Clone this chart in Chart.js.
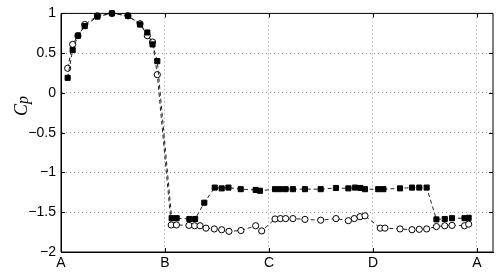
<!DOCTYPE html>
<html>
<head>
<meta charset="utf-8">
<script src="https://cdn.jsdelivr.net/npm/chart.js@4/dist/chart.umd.min.js"></script>
<style>
html,body{margin:0;padding:0;background:#fff;}
#wrap{width:498px;height:276px;position:relative;}
</style>
</head>
<body>
<div id="wrap"><canvas id="c" width="498" height="276"></canvas></div>
<script>
// Tick labels for the x axis (positions 0..4 along the contour)
const xTickLabels = ['A', 'B', 'C', 'D', 'A'];
const yTicks = [1, 0.5, 0, -0.5, -1, -1.5, -2];

// Series 1: filled squares
const sqX = [0.064,0.112,0.163,0.228,0.35,0.49,0.644,0.76,0.83,0.88,0.926,
  1.064,1.112,1.234,1.29,1.378,1.478,1.545,1.61,1.728,1.872,1.913,
  2.058,2.106,2.16,2.23,2.346,2.497,2.644,2.763,2.827,2.88,2.923,
  3.05,3.10,3.26,3.375,3.445,3.516,3.61,3.69,3.76,3.88,3.92];
const sqY = [0.19,0.54,0.72,0.84,0.96,1.0,0.97,0.86,0.76,0.61,0.40,
  -1.575,-1.575,-1.585,-1.585,-1.38,-1.19,-1.20,-1.19,-1.21,-1.22,-1.23,
  -1.21,-1.21,-1.21,-1.21,-1.21,-1.21,-1.195,-1.20,-1.19,-1.195,-1.21,
  -1.21,-1.21,-1.20,-1.19,-1.19,-1.19,-1.59,-1.585,-1.575,-1.575,-1.57];

// Series 2: open circles
const ciX = [0.064,0.112,0.163,0.228,0.35,0.49,0.644,0.76,0.83,0.88,0.926,
  1.06,1.11,1.23,1.285,1.337,1.394,1.474,1.545,1.615,1.73,1.872,1.93,
  2.058,2.11,2.16,2.23,2.346,2.497,2.644,2.763,2.82,2.875,2.923,
  3.07,3.115,3.26,3.375,3.445,3.516,3.61,3.69,3.76,3.88,3.92];
const ciY = [0.31,0.61,0.72,0.86,0.97,1.0,0.97,0.87,0.72,0.64,0.23,
  -1.66,-1.66,-1.665,-1.67,-1.67,-1.70,-1.71,-1.72,-1.74,-1.73,-1.67,-1.735,
  -1.585,-1.58,-1.58,-1.58,-1.59,-1.60,-1.58,-1.606,-1.58,-1.556,-1.545,
  -1.70,-1.70,-1.71,-1.72,-1.715,-1.71,-1.68,-1.67,-1.665,-1.67,-1.65];

const toPts = (xs, ys) => xs.map((x, i) => ({x: x, y: ys[i]}));

const FONT = '"Liberation Sans", Arial, Helvetica, sans-serif';

const framePlugin = {
  id: 'frame',
  afterDraw(chart) {
    const {ctx, chartArea: a, scales} = chart;
    ctx.save();
    ctx.strokeStyle = '#000';
    ctx.lineWidth = 1;
    ctx.beginPath();
    ctx.rect(a.left, a.top, a.right - a.left, a.bottom - a.top);
    ctx.stroke();
    // inward ticks
    const tl = 4;
    ctx.beginPath();
    scales.y.ticks.forEach(t => {
      const py = Math.round(scales.y.getPixelForValue(t.value)) + 0.5;
      ctx.moveTo(a.left, py); ctx.lineTo(a.left + tl, py);
      ctx.moveTo(a.right, py); ctx.lineTo(a.right - tl, py);
    });
    scales.x.ticks.forEach(t => {
      const px = Math.round(scales.x.getPixelForValue(t.value)) + 0.5;
      ctx.moveTo(px, a.bottom); ctx.lineTo(px, a.bottom - tl);
      ctx.moveTo(px, a.top); ctx.lineTo(px, a.top + tl);
    });
    ctx.stroke();
    // y axis label
    ctx.translate(22, 106);
    ctx.rotate(-Math.PI / 2);
    ctx.fillStyle = '#000';
    ctx.textBaseline = 'middle';
    ctx.textAlign = 'left';
    ctx.font = 'italic 18px "Liberation Serif", "DejaVu Serif", serif';
    const wC = ctx.measureText('C').width;
    ctx.font = 'italic 16px "Liberation Serif", "DejaVu Serif", serif';
    const wp = ctx.measureText('p').width;
    const total = wC + wp;
    ctx.font = 'italic 18px "Liberation Serif", "DejaVu Serif", serif';
    ctx.fillText('C', -total / 2, 0);
    ctx.font = 'italic 16px "Liberation Serif", "DejaVu Serif", serif';
    ctx.fillText('p', -total / 2 + wC, 1.5);
    ctx.restore();
  }
};

new Chart(document.getElementById('c'), {
  type: 'scatter',
  data: {
    datasets: [
      {
        label: 'squares',
        data: toPts(sqX, sqY),
        showLine: true,
        borderColor: '#222',
        borderWidth: 1,
        borderDash: [4, 3],
        pointStyle: 'rect',
        pointRadius: 3.6,
        pointBackgroundColor: '#000',
        pointBorderColor: '#000',
        pointBorderWidth: 1,
        clip: false,
        order: 0
      },
      {
        label: 'circles',
        data: toPts(ciX, ciY),
        showLine: true,
        borderColor: '#222',
        borderWidth: 1,
        borderDash: [4, 3],
        pointStyle: 'circle',
        pointRadius: 3.1,
        pointBackgroundColor: '#fff',
        pointBorderColor: '#000',
        pointBorderWidth: 1,
        clip: false,
        order: 1
      }
    ]
  },
  options: {
    responsive: false,
    animation: false,
    events: [],
    layout: {padding: {top: 13, right: 5, left: 0, bottom: 0}},
    plugins: {legend: {display: false}, tooltip: {enabled: false}},
    scales: {
      x: {
        type: 'linear',
        min: 0,
        max: 4.154,
        afterBuildTicks: s => { s.ticks = xTickLabels.map((_, i) => ({value: i})); },
        afterFit: s => { s.height = 24; },
        ticks: {
          callback: (v) => xTickLabels[v] !== undefined ? xTickLabels[v] : '',
          color: '#000',
          font: {family: FONT, size: 14},
          padding: 3,
          maxRotation: 0,
          autoSkip: false
        },
        grid: {color: '#999', lineWidth: 1, drawTicks: false},
        border: {display: true, color: '#000', width: 1, dash: [1, 3]}
      },
      y: {
        type: 'linear',
        min: -2,
        max: 1,
        afterBuildTicks: s => { s.ticks = yTicks.map(v => ({value: v})); },
        afterFit: s => { s.width = 61; },
        ticks: {
          callback: (v) => String(v).replace('-', '\u2212'),
          color: '#000',
          font: {family: FONT, size: 14},
          padding: 5,
          autoSkip: false
        },
        grid: {color: '#999', lineWidth: 1, drawTicks: false},
        border: {display: true, color: '#000', width: 1, dash: [1, 3]}
      }
    }
  },
  plugins: [framePlugin]
});
</script>
</body>
</html>
